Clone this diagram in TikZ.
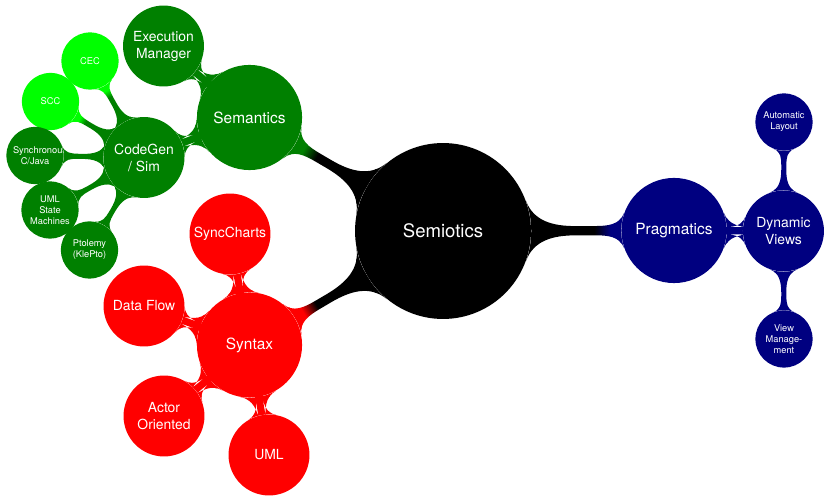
\documentclass[tikz,border=0pt]{standalone}
\usepackage{fontspec}
\setmainfont{TeX Gyre Heros}
\usetikzlibrary{mindmap}
\makeatletter
\pgfdeclarehorizontalshading[tikz@switch@from,tikz@switch@to]{tikz@shade@bar}{100bp}{%
  color(0bp)=(tikz@switch@from);
  color(70bp)=(tikz@switch@from);
  color(88bp)=(tikz@switch@to);
  color(100bp)=(tikz@switch@to)}
\makeatother
\definecolor{cgreen}{RGB}{0,128,0}
\definecolor{clime}{RGB}{0,255,0}
\definecolor{cnavy}{RGB}{0,0,128}
\definecolor{cred}{RGB}{255,0,0}
\tikzset{
  cpt/.style={circle, inner sep=0pt, align=center, text=white},
  lroot/.style={cpt, minimum size=4cm, fill=black, font=\large},
  lone/.style={cpt, minimum size=2.39cm, font=\normalsize},
  ltwo/.style={cpt, minimum size=1.84cm, font=\small},
  lthree/.style={cpt, minimum size=1.3cm, text width=1cm, font=\fontsize{6}{7}\selectfont},
  bar/.style 2 args={circle connection bar switch color=from (#1) to (#2)}
}
\begin{document}
\begin{tikzpicture}[x=0.02273cm, y=-0.02273cm]
\useasboundingbox (0,0) rectangle (828,496);
% nodes
\node[lroot] (root) at (443,231) {Semiotics};
\node[lone, fill=cgreen] (sem) at (249.5,117.5) {Semantics};
\node[lone, fill=cred] (syn) at (249.5,345) {Syntax};
\node[lone, fill=cnavy] (prag) at (674,230.5) {Pragmatics};
\node[ltwo, fill=cgreen] (exec) at (163.5,46) {Execution\\Manager};
\node[ltwo, fill=cgreen] (code) at (144,157.5) {CodeGen\\/ Sim};
\node[lthree, fill=clime] (cec) at (90,61) {CEC};
\node[lthree, fill=clime] (scc) at (50.5,101.5) {SCC};
\node[lthree, fill=cgreen] (sync) at (35,155.5) {Synchronous\\C/Java};
\node[lthree, fill=cgreen] (umlsm) at (50,210) {UML\\State\\Machines};
\node[lthree, fill=cgreen] (ptol) at (89.5,250) {Ptolemy\\(KlePto)};
\node[ltwo, fill=cred] (sc) at (230,234) {SyncCharts};
\node[ltwo, fill=cred] (df) at (144,306) {Data Flow};
\node[ltwo, fill=cred] (ao) at (164,416) {Actor\\Oriented};
\node[ltwo, fill=cred] (uml) at (269,455) {UML};
\node[ltwo, fill=cnavy] (dyn) at (783.5,231) {Dynamic\\Views};
\node[lthree, fill=cnavy] (al) at (784,122) {Automatic\\Layout};
\node[lthree, fill=cnavy] (vm) at (784,339) {View\\Manage-\\ment};
% connections
\path (root) to[bar={black}{cgreen}] (sem);
\path (root) to[bar={black}{cred}] (syn);
\path (root) to[bar={black}{cnavy}] (prag);
\path (sem) to[bar={cgreen}{cgreen}] (exec);
\path (sem) to[bar={cgreen}{cgreen}] (code);
\path (code) to[bar={cgreen}{clime}] (cec);
\path (code) to[bar={cgreen}{clime}] (scc);
\path (code) to[bar={cgreen}{cgreen}] (sync);
\path (code) to[bar={cgreen}{cgreen}] (umlsm);
\path (code) to[bar={cgreen}{cgreen}] (ptol);
\path (syn) to[bar={cred}{cred}] (sc);
\path (syn) to[bar={cred}{cred}] (df);
\path (syn) to[bar={cred}{cred}] (ao);
\path (syn) to[bar={cred}{cred}] (uml);
\path (prag) to[bar={cnavy}{cnavy}] (dyn);
\path (dyn) to[bar={cnavy}{cnavy}] (al);
\path (dyn) to[bar={cnavy}{cnavy}] (vm);
\end{tikzpicture}
\end{document}
